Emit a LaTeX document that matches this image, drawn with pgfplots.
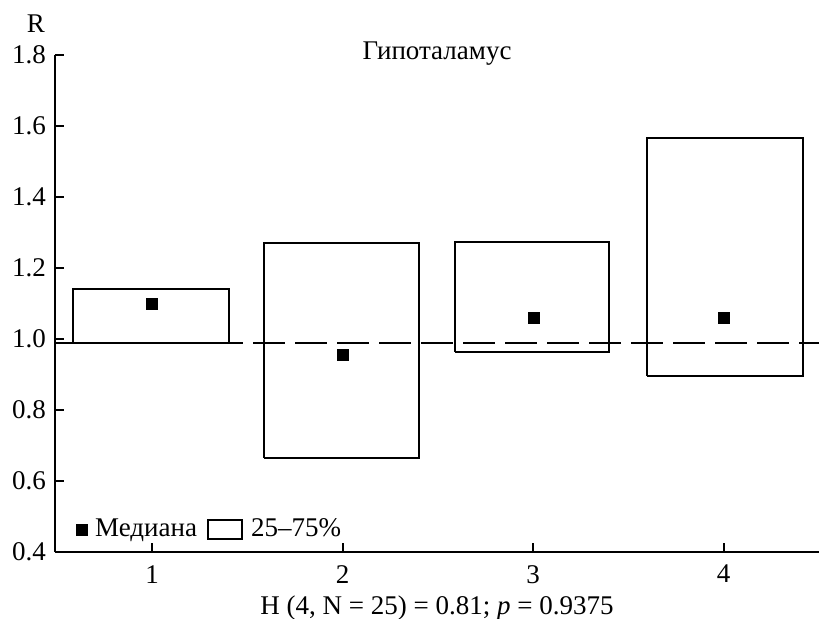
\documentclass[border=0pt]{standalone}
\usepackage{fontspec}
\setmainfont{Liberation Serif}
\usepackage{pgfplots}
\pgfplotsset{compat=1.18}
\begin{document}
\fontsize{27bp}{32bp}\selectfont
\begin{tikzpicture}
\useasboundingbox (-55bp,-67bp) rectangle (764bp,552bp);
\begin{axis}[
  scale only axis, width=764bp, height=497bp,
  xmin=0.49, xmax=4.5, ymin=0.4, ymax=1.8,
  axis x line=bottom, axis y line=left,
  axis line style={-, line width=2bp},
  tick align=inside, major tick length=9bp,
  every tick/.style={line width=2bp, black},
  xtick={1,2,3,4}, ytick={0.4,0.6,0.8,1.0,1.2,1.4,1.6,1.8},
  yticklabel style={/pgf/number format/.cd, fixed, fixed zerofill, precision=1},
  /pgf/number format/assume math mode=true,
  tick label style={font=\fontsize{27bp}{32bp}\selectfont},
  label style={font=\fontsize{27bp}{32bp}\selectfont},
  xticklabel style={yshift=-4bp},
  xlabel={H (4, N = 25) = 0.81; \textit{p} = 0.9375},
  xlabel style={at={(rel axis cs:0.5,0)}, anchor=base, yshift=-62bp},
  ylabel={R},
  ylabel style={at={(rel axis cs:0,1)}, rotate=-90, anchor=base, xshift=-19bp, yshift=22bp},
  title={Гипоталамус},
  title style={at={(rel axis cs:0.5,1)}, anchor=base, yshift=-10bp, font=\fontsize{27bp}{32bp}\selectfont},
  legend style={at={(rel axis cs:0,0)}, anchor=south west, draw=none, fill=none,
    font=\fontsize{27bp}{32bp}\selectfont, legend columns=2,
    xshift=18bp, yshift=7bp,
    /tikz/every odd column/.append style={column sep=6bp},
    /tikz/every even column/.append style={column sep=8bp}},
  legend cell align=left,
]
% boxes (25-75%)
\addplot[black, line width=2bp, forget plot] coordinates {(0.587,0.99) (1.403,0.99) (1.403,1.141) (0.587,1.141) (0.587,0.99)};
\addplot[black, line width=2bp, forget plot] coordinates {(1.589,0.666) (2.403,0.666) (2.403,1.271) (1.589,1.271) (1.589,0.666)};
\addplot[black, line width=2bp, forget plot] coordinates {(2.589,0.963) (3.398,0.963) (3.398,1.273) (2.589,1.273) (2.589,0.963)};
\addplot[black, line width=2bp, forget plot] coordinates {(3.598,0.897) (4.414,0.897) (4.414,1.566) (3.598,1.566) (3.598,0.897)};
% reference line
\addplot[black, line width=2bp, dash pattern=on 32bp off 10bp, dash phase=12bp, forget plot] coordinates {(0.49,0.99) (4.5,0.99)};
% medians
\addplot[only marks, mark=square*, mark size=5.5bp, black] coordinates {(1,1.100) (2,0.957) (3,1.061) (4,1.061)};
\addlegendentry{Медиана}
\addlegendimage{legend image code/.code={\draw[black, line width=2bp] (0bp,-9bp) rectangle (34bp,10bp);}}
\addlegendentry{25--75\%}
\end{axis}
\end{tikzpicture}
\end{document}
